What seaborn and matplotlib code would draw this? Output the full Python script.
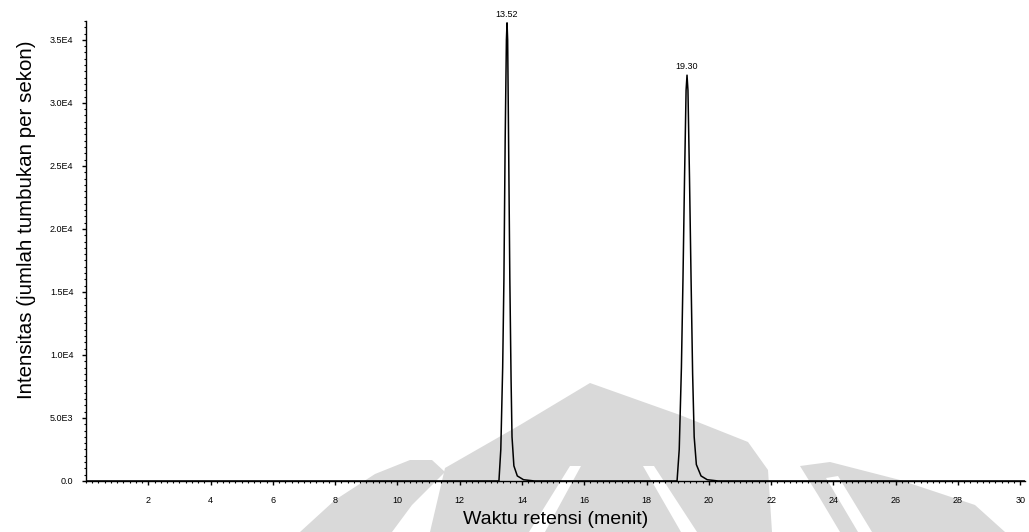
import matplotlib
matplotlib.use("Agg")
import matplotlib.pyplot as plt
from matplotlib.patches import Polygon
import seaborn as sns
import pandas as pd

# Chromatogram trace: retention time (min) and intensity (counts per second)
time_min = [0.0, 2.0, 4.0, 6.0, 8.0, 10.0, 12.0, 13.0,
            13.26, 13.32, 13.38, 13.42, 13.46, 13.50, 13.52, 13.54, 13.57,
            13.61, 13.65, 13.68, 13.74, 13.85, 14.05, 14.4,
            16.0, 18.0,
            18.98, 19.05, 19.12, 19.17, 19.22, 19.27, 19.30, 19.33, 19.38,
            19.43, 19.48, 19.53, 19.60, 19.75, 19.95, 20.3,
            22.0, 24.0, 26.0, 28.0, 30.15]
intensity = [0, 0, 0, 0, 0, 0, 0, 0,
             0, 2500, 9000, 16000, 27000, 35000, 36350, 35000, 27000,
             16000, 8000, 3500, 1200, 400, 100, 0,
             0, 0,
             0, 2500, 9000, 16000, 24000, 31000, 32200, 31000, 24000,
             16000, 8500, 3500, 1300, 400, 100, 0,
             0, 0, 0, 0, 0]

# Labelled peaks
peak_times = [13.52, 19.30]
peak_heights = [36350, 32200]

x_ticks = [2, 4, 6, 8, 10, 12, 14, 16, 18, 20, 22, 24, 26, 28, 30]
y_ticks = [0, 5000, 10000, 15000, 20000, 25000, 30000, 35000]
y_tick_labels = ["0.0", "5.0E3", "1.0E4", "1.5E4", "2.0E4", "2.5E4", "3.0E4", "3.5E4"]

sns.set_theme(style="ticks")
plt.rcParams["font.family"] = ["Liberation Sans", "DejaVu Sans"]

df = pd.DataFrame({"Waktu": time_min, "Intensitas": intensity})

W, H = 1029, 532
fig = plt.figure(figsize=(W / 100, H / 100), dpi=100)


def page_poly(points, color):
    """Background emblem shape given in page pixels (origin top-left)."""
    pts = [(x / W, 1 - y / H) for x, y in points]
    fig.patches.append(Polygon(pts, closed=True, transform=fig.transFigure,
                               facecolor=color, edgecolor="none", zorder=0))


# faint grey emblem printed behind the chart
grey = "#d9d9d9"
page_poly([(300, 532), (335, 500), (375, 474), (410, 460), (432, 460),
           (445, 472), (412, 505), (392, 532)], grey)
page_poly([(430, 532), (445, 468), (520, 425), (590, 383), (680, 415),
           (748, 442), (768, 470), (772, 532)], grey)
page_poly([(570, 466), (581, 466), (545, 532), (529, 532)], "white")
page_poly([(643, 466), (654, 466), (697, 532), (681, 532)], "white")
page_poly([(800, 466), (830, 462), (900, 480), (975, 505), (1005, 532),
           (840, 532), (818, 495)], grey)
page_poly([(826, 478), (838, 476), (872, 532), (858, 532)], "white")

ax = fig.add_axes([0.0836, 0.0959, 0.9124, 0.8647])
ax.set_facecolor("none")
ax.set_zorder(2)

sns.lineplot(data=df, x="Waktu", y="Intensitas", ax=ax, color="black",
             linewidth=1.1, estimator=None, sort=False)

for t, h in zip(peak_times, peak_heights):
    ax.annotate(f"{t:.2f}", xy=(t, h), xytext=(0, 3), textcoords="offset points",
                ha="center", va="bottom", fontsize=6.5, color="black",
                annotation_clip=False)

ax.set_xlim(0, 30.15)
ax.set_ylim(0, 36500)
ax.set_xticks(x_ticks)
ax.set_xticklabels([str(v) for v in x_ticks])
ax.set_yticks(y_ticks)
ax.set_yticklabels(y_tick_labels)
ax.xaxis.set_minor_locator(matplotlib.ticker.MultipleLocator(0.2))
ax.yaxis.set_minor_locator(matplotlib.ticker.MultipleLocator(500))

ax.tick_params(axis="both", which="major", labelsize=6.5, length=3,
               width=1, color="black", labelcolor="black")
ax.tick_params(axis="x", which="major", pad=8)
ax.tick_params(axis="y", which="major", pad=6)
ax.tick_params(axis="both", which="minor", length=1.5, width=0.8, color="black")

for side in ["top", "right"]:
    ax.spines[side].set_visible(False)
for side in ["left", "bottom"]:
    ax.spines[side].set_color("black")
    ax.spines[side].set_linewidth(1.0)

ax.set_xlabel("Waktu retensi (menit)", fontsize=14, color="black", labelpad=4)
ax.set_ylabel("Intensitas (jumlah tumbukan per sekon)", fontsize=14.8,
              color="black")
ax.yaxis.set_label_coords(-0.053, 0.567)

fig.savefig("out.png", dpi=100, facecolor="white")
